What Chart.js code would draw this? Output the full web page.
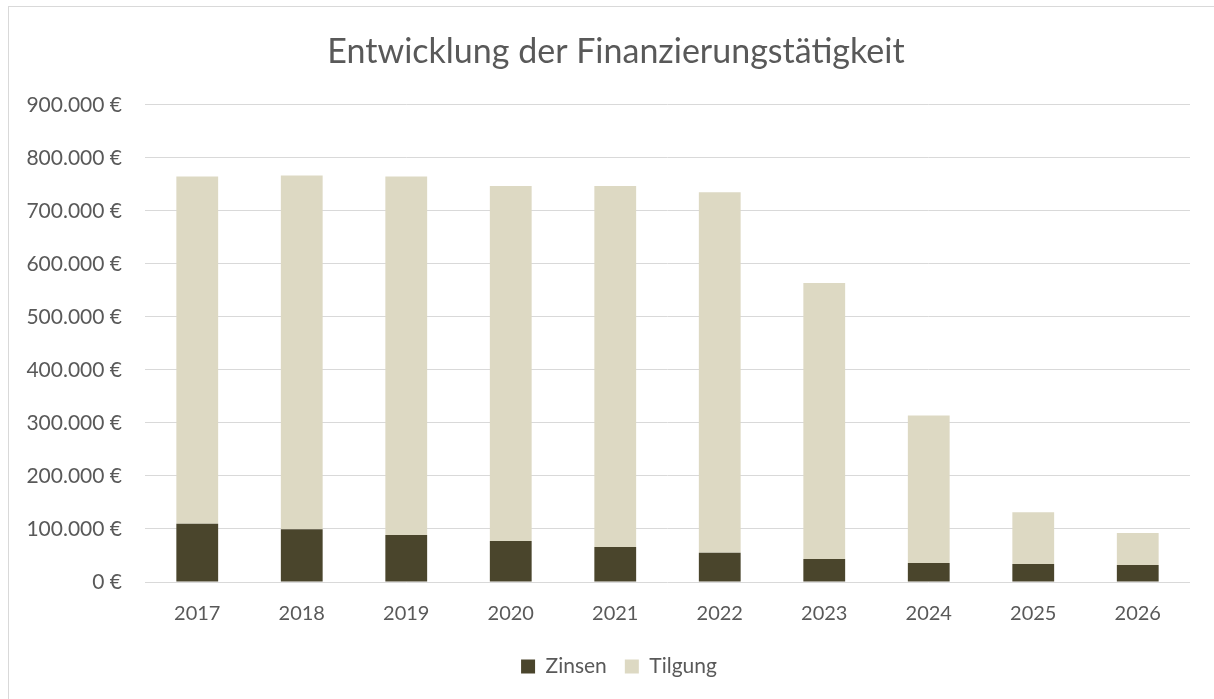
<!DOCTYPE html>
<html lang="de">

<head>
    <meta charset="UTF-8" />
    <title>Entwicklung der Finanzierungstätigkeit</title>
    <script src="https://cdn.jsdelivr.net/npm/chart.js"></script>
    <style>
        body {
            margin: 0;
            background: #fff;
        }

        .frame {
            position: absolute;
            left: 8px;
            top: 6px;
            width: 1300px;
            height: 800px;
            border: 1px solid #d9d9d9;
        }

        .wrap {
            position: absolute;
            left: 0;
            top: 0;
            width: 1214px;
            height: 699px;
        }
    </style>
</head>

<body>
    <div class="frame"></div>
    <div class="wrap">
        <canvas id="finChart"></canvas>
    </div>

    <script>
        const years = ['2017', '2018', '2019', '2020', '2021', '2022', '2023', '2024', '2025', '2026'];
        const zinsen = [110000, 99500, 88500, 77500, 66000, 55000, 43500, 36000, 34000, 32000];
        const tilgung = [655000, 667000, 676500, 669500, 681000, 680000, 520500, 278000, 97500, 60500];
        const yTicks = [0, 100000, 200000, 300000, 400000, 500000, 600000, 700000, 800000, 900000];

        function euro(v) {
            return String(v).replace(/\B(?=(\d{3})+(?!\d))/g, '.') + ' €';
        }

        // title and legend sit a bit right of the canvas centre in the original
        const shiftBoxes = {
            id: 'shiftBoxes',
            afterLayout(chart) {
                if (chart.legend) chart.legend.left += 48;
                if (chart.titleBlock) chart.titleBlock.left += 42;
            }
        };

        Chart.defaults.font.family = 'Lato, "Open Sans", sans-serif';
        Chart.defaults.color = '#595959';

        const ctx = document.getElementById('finChart').getContext('2d');
        new Chart(ctx, {
            type: 'bar',
            data: {
                labels: years,
                datasets: [
                    { label: 'Zinsen', data: zinsen, backgroundColor: '#4a452c' },
                    { label: 'Tilgung', data: tilgung, backgroundColor: '#ddd9c3' }
                ]
            },
            plugins: [shiftBoxes],
            options: {
                responsive: true,
                maintainAspectRatio: false,
                animation: false,
                layout: { padding: { left: 0, right: 24, top: 0, bottom: 12 } },
                datasets: { bar: { categoryPercentage: 1, barPercentage: 0.4 } },
                plugins: {
                    title: {
                        display: true,
                        text: 'Entwicklung der Finanzierungstätigkeit',
                        color: '#595959',
                        font: { size: 34, weight: 'normal' },
                        padding: { top: 32, bottom: 32 }
                    },
                    legend: {
                        position: 'bottom',
                        labels: {
                            boxWidth: 14,
                            boxHeight: 14,
                            padding: 18,
                            color: '#595959',
                            font: { size: 21 }
                        }
                    },
                    tooltip: { enabled: false }
                },
                scales: {
                    x: {
                        stacked: true,
                        grid: { display: false },
                        border: { display: false },
                        ticks: { font: { size: 20 }, padding: 12 }
                    },
                    y: {
                        stacked: true,
                        min: 0,
                        max: 900000,
                        afterBuildTicks: scale => {
                            scale.ticks = yTicks.map(v => ({ value: v }));
                        },
                        afterFit: scale => { scale.width = 145; },
                        grid: { color: '#d9d9d9', lineWidth: 1, drawTicks: false },
                        border: { display: false },
                        ticks: {
                            font: { size: 21 },
                            padding: 23,
                            callback: v => euro(v)
                        }
                    }
                }
            }
        });
    </script>
</body>

</html>
